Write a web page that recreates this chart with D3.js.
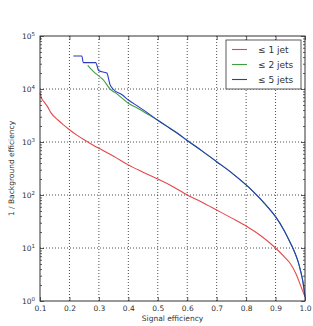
<!DOCTYPE html>
<html>
<head>
<meta charset="utf-8">
<script src="https://cdn.jsdelivr.net/npm/d3@7"></script>
<style>
  body { margin: 0; background: #fff; }
  svg { display: block; }
  text { font-family: "DejaVu Sans", sans-serif; fill: #333; }
</style>
</head>
<body>
<svg id="chart"></svg>
<script>
// values
const xTicks = [0.1, 0.2, 0.3, 0.4, 0.5, 0.6, 0.7, 0.8, 0.9, 1.0];
const yExponents = [0, 1, 2, 3, 4, 5];

const jet1X = [0.1, 0.105, 0.115, 0.125, 0.138, 0.161, 0.18, 0.2, 0.225, 0.25, 0.275, 0.3, 0.35, 0.4, 0.45, 0.5, 0.541, 0.6, 0.65, 0.7, 0.75, 0.8, 0.85, 0.9, 0.93, 0.95, 0.97, 0.983, 0.993, 1.0];
const jet1Y = [8500, 6800, 5600, 4700, 3500, 2600, 2100, 1700, 1350, 1100, 910, 760, 540, 370, 270, 200, 155, 100, 73, 52, 37, 26, 17, 10, 6.8, 5.1, 3.2, 2.1, 1.5, 1.2];

const jet2X = [0.262, 0.281, 0.315, 0.338, 0.36, 0.4, 0.433, 0.47, 0.5, 0.541, 0.568, 0.6, 0.65, 0.7, 0.75, 0.8, 0.825, 0.85, 0.875, 0.9, 0.93, 0.95, 0.962, 0.975, 0.985, 0.993, 1.0];
const jet2Y = [28000, 21500, 14800, 10000, 8200, 5400, 4300, 3250, 2570, 1820, 1450, 1070, 680, 425, 265, 155, 115, 83, 58, 39, 21, 12.6, 9.1, 5.9, 3.7, 2.3, 1.2];

const jet5X = [0.213, 0.242, 0.247, 0.289, 0.30, 0.327, 0.338, 0.348, 0.38, 0.4, 0.433, 0.47, 0.5, 0.541, 0.568, 0.6, 0.65, 0.7, 0.75, 0.8, 0.825, 0.85, 0.875, 0.9, 0.93, 0.95, 0.962, 0.975, 0.985, 0.993, 1.0];
const jet5Y = [42000, 42000, 31500, 31500, 22000, 20000, 12000, 10000, 7700, 6200, 4700, 3400, 2570, 1820, 1450, 1070, 680, 425, 265, 155, 115, 83, 58, 39, 21, 12.6, 9.1, 5.9, 3.7, 2.3, 1.2];

const seriesNames = ["\u2264  1 jet", "\u2264  2 jets", "\u2264  5 jets"];
const seriesColors = ["#e5484a", "#3f9f3f", "#2a3bc0"];

const W = 313, H = 326;
const margin = { top: 36, right: 8, bottom: 25, left: 40 };
const width = W - margin.left - margin.right,
      height = H - margin.top - margin.bottom;

const svg = d3.select("#chart").attr("width", W).attr("height", H);
const g = svg.append("g").attr("transform", `translate(${margin.left},${margin.top})`);

const x = d3.scaleLinear().domain([0.1, 1.0]).range([0, width]);
const y = d3.scaleLog().domain([1, 1e5]).range([height, 0]);

// grid
g.append("g").selectAll("line").data(xTicks.slice(1, -1)).enter().append("line")
  .attr("x1", d => x(d)).attr("x2", d => x(d)).attr("y1", 0).attr("y2", height)
  .attr("stroke", "#222").attr("stroke-width", 0.8).attr("stroke-dasharray", "1,2");
g.append("g").selectAll("line").data(yExponents.slice(1, -1)).enter().append("line")
  .attr("x1", 0).attr("x2", width).attr("y1", d => y(Math.pow(10, d))).attr("y2", d => y(Math.pow(10, d)))
  .attr("stroke", "#222").attr("stroke-width", 0.8).attr("stroke-dasharray", "1,2");

// lines
const line = d3.line().curve(d3.curveMonotoneX).x(d => x(d[0])).y(d => y(d[1]));
const series = [
  d3.zip(jet1X, jet1Y),
  d3.zip(jet2X, jet2Y),
  d3.zip(jet5X, jet5Y)
];
series.forEach((s, i) => {
  g.append("path").datum(s).attr("d", line)
    .attr("fill", "none").attr("stroke", seriesColors[i]).attr("stroke-width", 1.1);
});

// axes: inward ticks on all sides
const minorTicks = [];
for (let e = 0; e < 5; e++) for (let k = 2; k <= 9; k++) minorTicks.push(k * Math.pow(10, e));

const xAxisB = g.append("g").attr("transform", `translate(0,${height})`)
  .call(d3.axisBottom(x).tickValues(xTicks).tickFormat(d3.format(".1f")).tickSizeInner(-4).tickSizeOuter(0).tickPadding(5));
g.append("g")
  .call(d3.axisTop(x).tickValues(xTicks).tickFormat("").tickSizeInner(-4).tickSizeOuter(0));
g.append("g")
  .call(d3.axisLeft(y).tickValues(yExponents.map(e => Math.pow(10, e))).tickFormat("").tickSizeInner(-4).tickSizeOuter(0));
g.append("g").attr("transform", `translate(${width},0)`)
  .call(d3.axisRight(y).tickValues(yExponents.map(e => Math.pow(10, e))).tickFormat("").tickSizeInner(-4).tickSizeOuter(0));
g.append("g").call(d3.axisLeft(y).tickValues(minorTicks).tickFormat("").tickSizeInner(-2).tickSizeOuter(0));
g.append("g").attr("transform", `translate(${width},0)`)
  .call(d3.axisRight(y).tickValues(minorTicks).tickFormat("").tickSizeInner(-2).tickSizeOuter(0));

g.selectAll(".domain").remove();
g.selectAll(".tick line").attr("stroke", "#333").attr("stroke-width", 0.8);
xAxisB.selectAll("text").attr("font-size", 7.5).attr("fill", "#333").style("font-family", "DejaVu Sans");

// y tick labels as 10^n
const yLab = g.append("g");
yExponents.forEach(e => {
  const t = yLab.append("text")
    .attr("x", -5).attr("y", y(Math.pow(10, e)) + 3)
    .attr("text-anchor", "end").attr("font-size", 7.5);
  t.append("tspan").text("10");
  t.append("tspan").attr("dy", -3.5).attr("font-size", 5.5).text(e);
});

// frame
g.append("rect").attr("width", width).attr("height", height)
  .attr("fill", "none").attr("stroke", "#333").attr("stroke-width", 1);

// axis labels
svg.append("text").attr("x", margin.left + width / 2).attr("y", 321)
  .attr("text-anchor", "middle").attr("font-size", 7.5).text("Signal efficiency");
svg.append("text")
  .attr("transform", `translate(14,${margin.top + height / 2}) rotate(-90)`)
  .attr("text-anchor", "middle").attr("font-size", 7.5).text("1 / Background efficiency");

// legend
const lg = svg.append("g").attr("transform", "translate(226,40)");
lg.append("rect").attr("width", 75).attr("height", 49)
  .attr("fill", "#fff").attr("stroke", "#333").attr("stroke-width", 0.8);
seriesNames.forEach((name, i) => {
  const yy = 9.5 + i * 15;
  lg.append("line").attr("x1", 6).attr("x2", 21).attr("y1", yy).attr("y2", yy)
    .attr("stroke", seriesColors[i]).attr("stroke-width", 1.1);
  lg.append("text").attr("x", 32).attr("y", yy + 3.3).attr("font-size", 9).text(name);
});
</script>
</body>
</html>
